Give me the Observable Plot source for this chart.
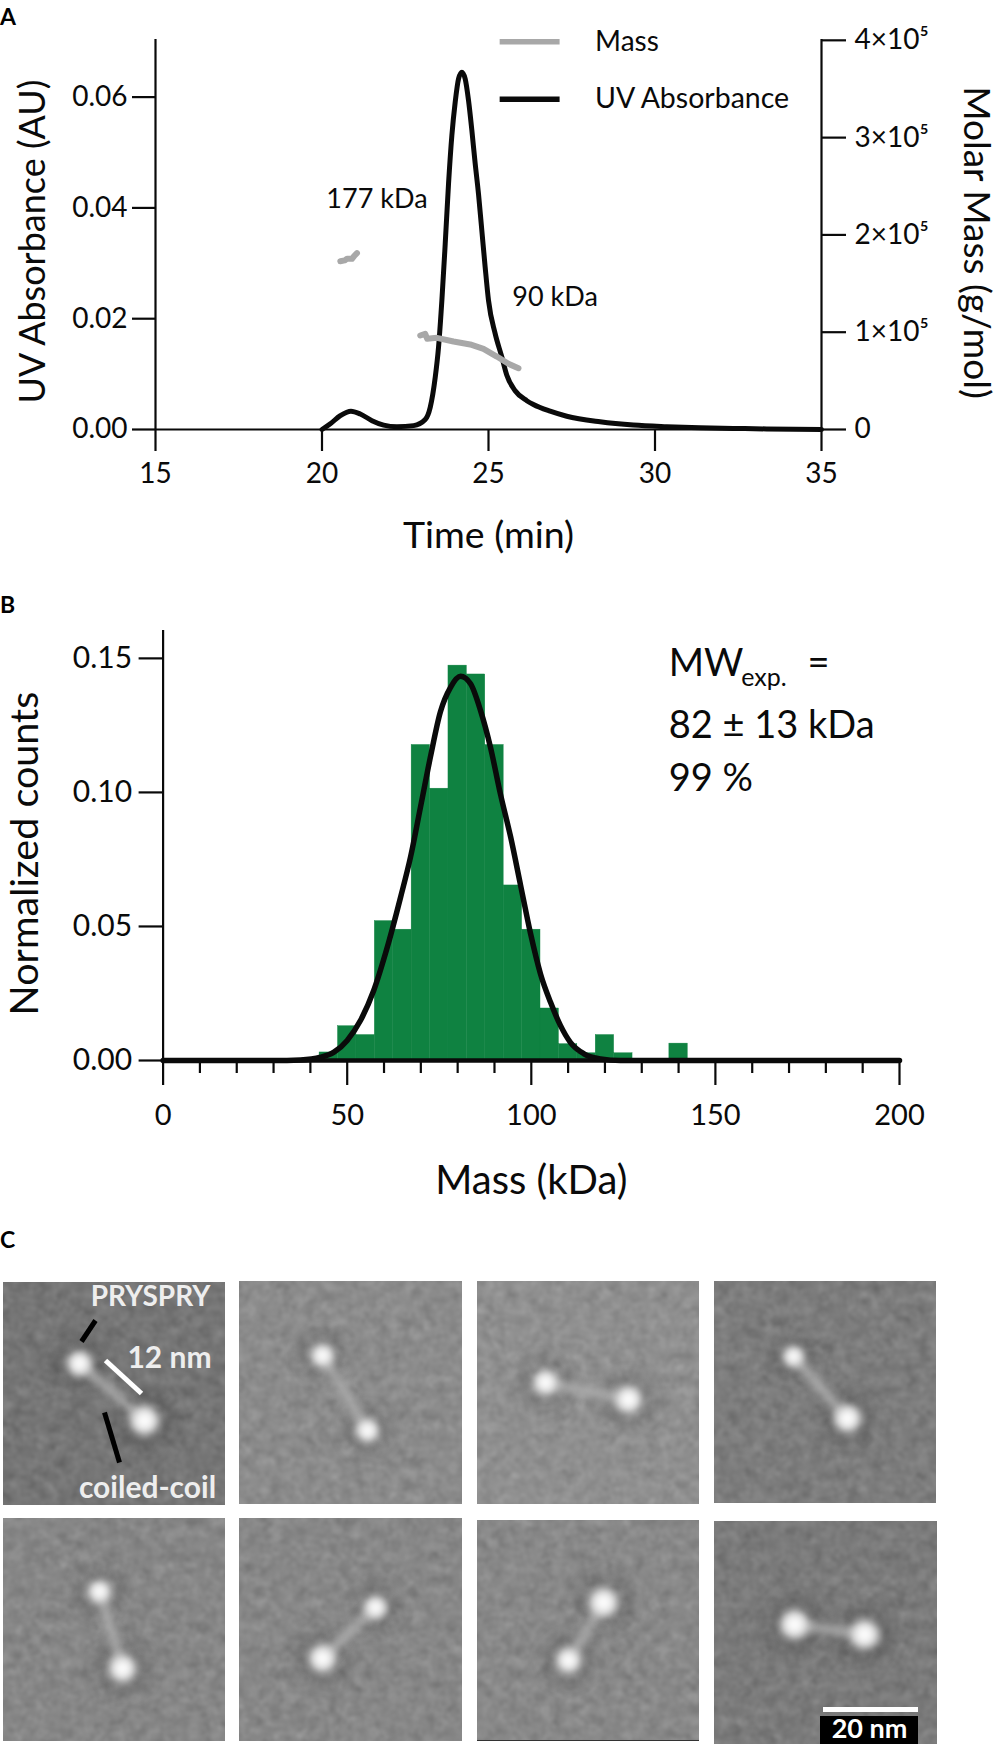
<!doctype html>
<html>
<head>
<meta charset="utf-8">
<script src="https://cdn.jsdelivr.net/npm/d3@7"></script>
<script src="https://cdn.jsdelivr.net/npm/@observablehq/plot@0.6"></script>
<style>
  html, body { margin: 0; background: #fff; }
  #page { position: relative; width: 1000px; height: 1744px; overflow: hidden; font-family: Lato, sans-serif; }
  .panel { position: absolute; left: 0; width: 1000px; }
  .letter { position: absolute; left: 0; font: bold 23px Lato, sans-serif; line-height: 1; color: #000; }
</style>
</head>
<body>
<svg width="0" height="0" style="position:absolute">
  <filter id="grain" x="0" y="0" width="100%" height="100%" color-interpolation-filters="sRGB">
    <feTurbulence type="fractalNoise" baseFrequency="0.085" numOctaves="2" seed="4" result="n"/>
    <feColorMatrix in="n" type="matrix" values=".34 .33 .33 0 0 .34 .33 .33 0 0 .34 .33 .33 0 0 0 0 0 0 1" result="g"/>
    <feComposite in="SourceGraphic" in2="g" operator="arithmetic" k1="0" k2="1" k3="0.24" k4="-0.12" result="m"/>
    <feComposite in="m" in2="SourceGraphic" operator="in"/>
  </filter>
</svg>
<div id="page">
  <div class="panel" id="a" style="top:0"></div>
  <div class="panel" id="b" style="top:590px"></div>
  <div class="panel" id="c" style="top:1210px"></div>
  <div class="letter" style="top:5px">A</div>
  <div class="letter" style="top:593px">B</div>
  <div class="letter" style="top:1228px">C</div>
</div>
<script>
// Panel A: SEC-MALS trace
const uvTime = [15, 20, 20.25, 20.55, 20.87, 21.15, 21.5, 21.85, 22.25, 22.75, 23.1, 23.25, 23.4, 23.5, 23.6, 23.7, 23.8, 23.9, 24.0, 24.1, 24.2, 24.3, 24.4, 24.5, 24.6, 24.7, 24.8, 24.9, 25.0, 25.2, 25.4, 25.55, 25.8, 26.15, 26.35, 26.85, 27.35, 28.35, 29.35, 30.35, 31.35, 32.35, 33.35, 35];
const uvValue = [0, 0, 0.00103, 0.0025, 0.0033, 0.0028, 0.0016, 0.0008, 0.0005, 0.0007, 0.0018, 0.004, 0.0094, 0.0149, 0.0233, 0.0335, 0.0444, 0.0531, 0.0591, 0.0633, 0.0645, 0.0633, 0.0594, 0.054, 0.048, 0.0425, 0.0359, 0.0293, 0.0233, 0.0173, 0.0131, 0.0098, 0.007, 0.0052, 0.0045, 0.0033, 0.0024, 0.0014, 0.0008, 0.0005, 0.0003, 0.0002, 0.0001, 0];
const massTimeLow = [20.55, 20.68, 20.75, 20.9, 20.97, 21.05];
const massLow = [173000, 173800, 175400, 175400, 178500, 181200];
const massTimeMain = [22.95, 23.1, 23.16, 23.45, 23.95, 24.45, 24.85, 25.25, 25.6, 25.9];
const massMain = [96600, 98300, 93200, 94200, 90400, 87400, 82900, 75000, 67500, 63000];
const uvTicks = [0, 0.02, 0.04, 0.06];
const massTicks = [0, 1e5, 2e5, 3e5, 4e5];
const massTickLabels = ["0", "1×10⁵", "2×10⁵", "3×10⁵", "4×10⁵"];
const timeTicks = [15, 20, 25, 30, 35];

// Panel B: mass photometry histogram (5 kDa bins) and fitted curve
const binLeft = [42.5, 47.5, 52.5, 57.5, 62.5, 67.5, 72.5, 77.5, 82.5, 87.5, 92.5, 97.5, 102.5, 107.5, 112.5, 117.5, 122.5, 137.5];
const binCount = [0.003, 0.0128, 0.0095, 0.052, 0.0488, 0.1177, 0.1014, 0.1473, 0.144, 0.1177, 0.0653, 0.0488, 0.0194, 0.0061, 0.0027, 0.0095, 0.0027, 0.0063];
const fitMass = [0, 20, 30, 37.3, 42.8, 46.4, 50, 53.6, 57.2, 60.9, 64.5, 67.2, 69.9, 72.6, 75.3, 78.1, 80.8, 83.5, 86.2, 88.9, 91.6, 94.4, 97.1, 99.8, 102.5, 105.2, 107.9, 110.6, 114.3, 118.8, 124.2, 130, 200];
const fitCount = [0, 0, 0, 0.0002, 0.0012, 0.0031, 0.0075, 0.0149, 0.0261, 0.0423, 0.0609, 0.0759, 0.0945, 0.1132, 0.13, 0.1393, 0.1433, 0.1405, 0.1306, 0.1169, 0.0995, 0.0833, 0.0653, 0.0473, 0.0323, 0.0218, 0.0131, 0.0068, 0.0025, 0.0006, 0, 0, 0];
const countTicks = [0, 0.05, 0.1, 0.15];
const massMajor = [0, 50, 100, 150, 200];
const massMinor = d3.range(0, 201, 10).filter((d) => d % 50 !== 0);

// Panel C: micrograph tiles, measured in picture pixels below the panel top
const tileLeft = [3, 239, 477, 714, 3, 239, 477, 714];
const tileRight = [225, 462, 699, 936, 225, 462, 699, 937];
const tileTop = [72, 71, 71, 71, 308, 308, 310, 311];
const tileBottom = [295, 294, 294, 293, 531, 531, 530, 534];
const tileGray = ["#757575", "#8b8b8b", "#8f8f8f", "#7c7c7c", "#868686", "#878787", "#888888", "#7a7a7a"];
const beadX1 = [79, 322, 545, 793, 99, 375, 603, 794];
const beadY1 = [153, 145, 172, 146, 381, 397, 392, 414];
const beadR1 = [13, 12, 13, 11, 12, 12, 15, 15];
const beadX2 = [144, 367, 628, 847, 122, 322, 568, 864];
const beadY2 = [210, 220, 189, 208, 458, 448, 450, 424];
const beadR2 = [15, 12, 14, 14, 14, 14, 13, 15];

const black = "#0a0a0a";
const green = "#0f8241";
const gray = "#a8a8a8";
const massToUv = (m) => m * (0.07025 / 4e5);

const rows = (xs, ys) => xs.map((x, i) => ({ x, y: ys[i] }));

function panelA() {
  return Plot.plot({
    width: 1000,
    height: 590,
    marginTop: 39,
    marginBottom: 161,
    marginLeft: 155,
    marginRight: 179,
    style: { fontFamily: "Lato", fontSize: "28px", color: black },
    x: { domain: [15, 35] },
    y: { domain: [0, 0.0704] },
    marks: [
      Plot.ruleX([15, 35], { strokeWidth: 2.2, stroke: black }),
      Plot.ruleY([0], { strokeWidth: 2.2, stroke: black }),
      Plot.axisX({ ticks: timeTicks, tickSize: 22, tickPadding: 12, strokeWidth: 2.2, label: null, tickFormat: (d) => d }),
      Plot.axisY({ ticks: uvTicks, tickSize: 23, tickPadding: 5, strokeWidth: 2.2, label: null, tickFormat: (d) => d.toFixed(2) }),
      Plot.axisY(massTicks.map(massToUv), {
        anchor: "right", ticks: massTicks.map(massToUv), tickSize: 24, tickPadding: 9, strokeWidth: 2.2, label: null,
        tickFormat: (d, i) => massTickLabels[i], fontSize: 28,
      }),
      Plot.line(rows(uvTime, uvValue).filter((d) => d.x >= 20), { x: "x", y: "y", stroke: black, strokeWidth: 5, curve: "monotone-x" }),
      Plot.line(rows(massTimeLow, massLow), { x: "x", y: (d) => massToUv(d.y), stroke: gray, strokeWidth: 6 }),
      Plot.line(rows(massTimeMain, massMain), { x: "x", y: (d) => massToUv(d.y), stroke: gray, strokeWidth: 6 }),
      Plot.text(["177 kDa"], { x: 21.65, y: 0.0415, fontSize: 27 }),
      Plot.text(["90 kDa"], { x: 27, y: 0.0238, fontSize: 27 }),
      Plot.ruleY([0.07], { x1: 25.35, x2: 27.15, stroke: gray, strokeWidth: 5.5 }),
      Plot.ruleY([0.0596], { x1: 25.35, x2: 27.15, stroke: black, strokeWidth: 5.5 }),
      Plot.text(["Mass"], { x: 28.2, y: 0.07, textAnchor: "start", fontSize: 28 }),
      Plot.text(["UV Absorbance"], { x: 28.2, y: 0.0596, textAnchor: "start", fontSize: 28.5 }),
      Plot.text(["Time (min)"], { frameAnchor: "bottom", dy: 118, fontSize: 37.5 }),
      Plot.text(["UV Absorbance (AU)"], { frameAnchor: "left", textAnchor: "middle", dx: -122, dy: 7, rotate: -90, fontSize: 36 }),
      Plot.text(["Molar Mass (g/mol)"], { frameAnchor: "right", textAnchor: "middle", dx: 154, dy: 8, rotate: 90, fontSize: 37 }),
    ],
  });
}

function panelB() {
  const bars = binLeft.map((x1, i) => ({ x1, x2: x1 + 5, y: binCount[i] }));
  return Plot.plot({
    width: 1000,
    height: 620,
    marginTop: 40,
    marginBottom: 150,
    marginLeft: 162.6,
    marginRight: 101,
    style: { fontFamily: "Lato", fontSize: "29px", color: black },
    x: { domain: [0, 200] },
    y: { domain: [0, 0.1604] },
    marks: [
      Plot.rectY(bars, { x1: "x1", x2: "x2", y: "y", fill: green, stroke: green, strokeWidth: 0.4 }),
      Plot.ruleX([0], { strokeWidth: 2.2, stroke: black }),
      Plot.ruleY([0], { strokeWidth: 4.5, stroke: black }),
      Plot.axisX({ ticks: massMajor, tickSize: 25, tickPadding: 19, strokeWidth: 2.2, label: null, tickFormat: (d) => d }),
      Plot.axisX({ ticks: massMinor, tickSize: 13, strokeWidth: 2.2, label: null, tickFormat: () => "" }),
      Plot.axisY({ ticks: countTicks, tickSize: 24, tickPadding: 7, strokeWidth: 2.2, label: null, tickFormat: (d) => d.toFixed(2), fontSize: 30 }),
      Plot.line(rows(fitMass, fitCount), { x: "x", y: "y", stroke: black, strokeWidth: 5.5, curve: "monotone-x" }),
      Plot.text(["MW"], { x: 137.3, y: 0.1481, textAnchor: "start", fontSize: 38 }),
      Plot.text(["exp."], { x: 157, y: 0.1426, textAnchor: "start", fontSize: 25 }),
      Plot.text(["="], { x: 175, y: 0.1481, textAnchor: "start", fontSize: 38 }),
      Plot.text(["82 ± 13 kDa"], { x: 137.3, y: 0.125, textAnchor: "start", fontSize: 38 }),
      Plot.text(["99 %"], { x: 137.3, y: 0.1052, textAnchor: "start", fontSize: 38 }),
      Plot.text(["Mass (kDa)"], { frameAnchor: "bottom", dy: 133, fontSize: 40 }),
      Plot.text(["Normalized counts"], { frameAnchor: "left", textAnchor: "middle", dx: -138, dy: 8, rotate: -90, fontSize: 39.5 }),
    ],
  });
}

function panelC() {
  const tiles = tileLeft.map((x1, i) => ({ x1, x2: tileRight[i], y1: tileTop[i], y2: tileBottom[i], fill: tileGray[i] }));
  const rods = beadX1.map((x1, i) => ({ x1, y1: beadY1[i], x2: beadX2[i], y2: beadY2[i] }));
  const beads = beadX1.flatMap((x, i) => [
    { x, y: beadY1[i], r: beadR1[i] },
    { x: beadX2[i], y: beadY2[i], r: beadR2[i] },
  ]);
  return Plot.plot({
    width: 1000,
    height: 534,
    margin: 0,
    style: { fontFamily: "Lato", fontSize: "27px", background: "transparent" },
    x: { domain: [0, 1000], axis: null },
    y: { domain: [534, 0], axis: null },
    r: { type: "identity" },
    marks: [
      Plot.rect(tiles, { x1: "x1", x2: "x2", y1: "y1", y2: "y2", fill: "fill", imageFilter: "url(#grain)" }),
      Plot.dot(beads, { x: "x", y: "y", r: (d) => d.r * 1.9, fill: "#000", fillOpacity: 0.16, imageFilter: "blur(8px)" }),
      Plot.link(rods, { x1: "x1", y1: "y1", x2: "x2", y2: "y2", stroke: "#b0b0b0", strokeWidth: 8, imageFilter: "blur(4px)" }),
      Plot.dot(beads, { x: "x", y: "y", r: "r", fill: "#d8d8d8", imageFilter: "blur(4.5px)" }),
      Plot.dot(beads, { x: "x", y: "y", r: (d) => d.r * 0.55, fill: "#fff", fillOpacity: 0.9, imageFilter: "blur(3.5px)" }),
      Plot.ruleY([530], { x1: 477, x2: 699, stroke: "#333", strokeWidth: 1 }),
      Plot.link([0], { x1: 95, y1: 110, x2: 81, y2: 131, stroke: "#000", strokeWidth: 5 }),
      Plot.link([0], { x1: 105, y1: 150, x2: 141, y2: 183, stroke: "#fff", strokeWidth: 5 }),
      Plot.link([0], { x1: 104, y1: 202, x2: 119, y2: 252, stroke: "#000", strokeWidth: 5 }),
      Plot.text(["PRYSPRY"], { x: 150, y: 87, fill: "#eee", fontWeight: 700, fontSize: 28 }),
      Plot.text(["12 nm"], { x: 169, y: 148, fill: "#eee", fontWeight: 700, fontSize: 30 }),
      Plot.text(["coiled-coil"], { x: 147, y: 278, fill: "#eee", fontWeight: 700, fontSize: 30 }),
      Plot.rect([0], { x1: 820, x2: 918, y1: 506, y2: 534, fill: "#000" }),
      Plot.rect([0], { x1: 823, x2: 918, y1: 497, y2: 502, fill: "#fff" }),
      Plot.text(["20 nm"], { x: 869, y: 519, fill: "#fff", fontWeight: 700, fontSize: 27 }),
    ],
  });
}

document.getElementById("a").append(panelA());
document.getElementById("b").append(panelB());
document.getElementById("c").append(panelC());
</script>
</body>
</html>
